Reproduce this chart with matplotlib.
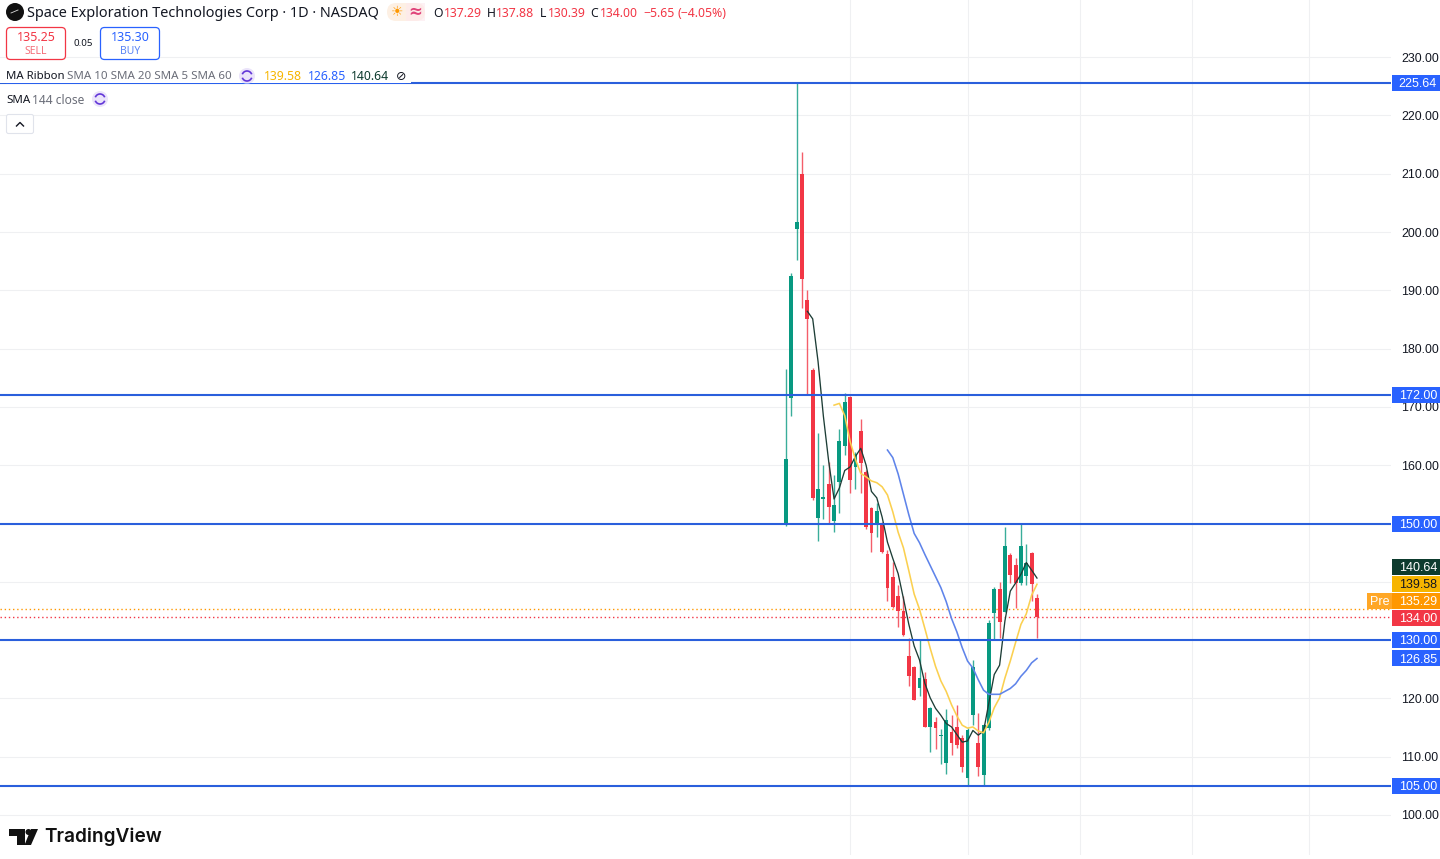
import matplotlib
matplotlib.use("Agg")
import matplotlib.pyplot as plt
from matplotlib.patches import Rectangle, FancyBboxPatch, Circle, Arc, Polygon
from matplotlib.transforms import blended_transform_factory

plt.rcParams['font.family'] = ['Noto Sans', 'DejaVu Sans']

opens = [150,171.5,200.5,210,188.3,176.3,151,154.2,156.8,150.4,157.1,163.3,171.7,159.7,165.9,158.8,
         152.7,150,150,144.8,140.8,137.6,135,127.3,125.4,121.8,123.3,115.1,116,113.5,109,114.2,
         115.1,113.2,106.3,117.2,112.3,106.9,114.9,134.6,138.8,134.8,144.6,142.9,139.8,141,144.9,137.29]
highs = [176.5,193,225.64,213.7,190,176.7,165.5,160,160.5,158.3,166.2,172.4,171.8,162.3,167.9,159.2,
         152.8,153.5,150.2,145.4,143.4,139.5,137.6,130.4,125.6,130,124.5,118.5,116.8,114.8,118.2,117.2,
         118.9,113.7,114.9,126.6,117.5,115.6,133.4,139.1,140,149.4,144.9,144.1,150,146.5,145.1,137.88]
lows = [149.5,168.5,195.2,187,172,154,147,150.8,150,148.5,151.8,161.7,155.2,156,155.2,149,
        145.1,147.7,145,136.7,135.5,132.2,130.7,122.1,119.7,120.4,115.1,110.8,111.3,108.7,107,110.3,
        111.5,107.4,105,115.4,106.7,105,114.6,130.2,130.4,134.8,139.8,135.5,139.5,139.5,136.7,130.39]
closes = [161,192.5,201.7,192,185,154.4,156,154.6,152.8,153.2,164.1,170.8,157.5,161.9,160.4,149.4,
          148.4,152.1,145.1,138.9,135.7,135,130.9,123.8,119.7,123.5,115.1,118.4,114.9,113.6,116.3,112.3,
          112,108.2,114.6,125.4,108.2,115.4,132.9,138.8,133.1,146.1,141.2,139.8,146.1,143.2,139.6,134]
sma5 = [186.4,185.1,177.8,168.4,160.6,154.2,156.1,159.1,159.7,161.5,162.9,160,155.5,154.4,151.1,146.8,
        144,141.4,137.1,132.7,129,126.6,122.6,120.1,118.3,117.1,115.7,115.1,113.8,112.5,112.7,114.5,
        113.7,114.4,119.3,124.1,125.7,133.3,138.4,139.8,141.3,143.3,142,140.64]
sma10 = [170.3,170.6,168.5,164.1,161,158.6,158,157.3,157,156.3,154.9,152,148.5,145.8,141.9,137.9,
         135.3,132,128.6,125.5,123,121.2,118.9,117,115.4,114.9,115.1,114.4,114.1,115.9,118.4,120.1,
         123.5,126.4,129.6,132.7,134.5,137.7,139.58]
sma20 = [162.6,161.3,158.5,155,151.5,148.3,146.7,144.7,142.8,140.9,139,136.6,133.7,131.4,128.7,126.4,
         125.2,123.2,121.4,120.7,120.7,120.7,121.2,121.7,122.5,123.8,124.8,126.1,126.85]
level_prices = [225.64,172,150,130,105]
price_ticks = list(range(100,240,10))
time_grid = [12,34,55,76,98]
last_price, pre_price = 134.00, 135.29
tags = [("225.64",225.64,"#2962ff","white"),("172.00",172,"#2962ff","white"),("150.00",150,"#2962ff","white"),
        ("130.00",130,"#2962ff","white"),("126.85",126.85,"#2962ff","white"),("105.00",105,"#2962ff","white"),
        ("140.64",142.5,"#0d3b2e","white"),("139.58",139.6,"#f7b500","#131722"),
        ("135.29",136.7,"#ff9800","white"),("134.00",133.85,"#f23645","white")]

UP, DOWN, BLUE, LINE = "#089981", "#f23645", "#2962ff", "#2a5fdc"
fig = plt.figure(figsize=(14.4,8.59), dpi=100, facecolor="white")
ax = fig.add_axes([0,0,1391/1440,1])
ax.set_facecolor("white")
ax.set_xlim(-147.2,113.3)
ax.set_ylim(92.45,239.8)
for s in ax.spines.values():
    s.set_visible(False)
ax.yaxis.tick_right()
ax.set_yticks(price_ticks)
ax.set_yticklabels([f"{p:.2f}" for p in price_ticks], fontsize=8.9, color="#131722", family="Liberation Sans")
ax.tick_params(axis="y", length=0, pad=7.5)
ax.set_xticks(time_grid)
ax.tick_params(axis="x", length=0, labelbottom=False)
ax.grid(True, color="#eff0f2", lw=0.75)
ax.set_axisbelow(True)

for i,(o,h,l,c) in enumerate(zip(opens,highs,lows,closes)):
    col = UP if c>=o else DOWN
    ax.vlines(i,l,h,color=col,lw=1.0,alpha=0.8,zorder=3)
    ax.bar(i,max(abs(c-o),0.25),bottom=min(o,c),width=0.72,color=col,lw=0,zorder=3)

ax.plot(range(4,48),sma5,color="#1d3d36",lw=0.95,zorder=4)
ax.plot(range(9,48),sma10,color="#fbd050",lw=1.15,zorder=4)
ax.plot(range(19,48),sma20,color="#5f84ea",lw=1.15,zorder=4)
for p in level_prices:
    ax.axhline(p,color=LINE,lw=1.5,zorder=5)
ax.axhline(pre_price,color="#ff9800",lw=1,ls=(0,(1,2)),zorder=2)
ax.axhline(last_price,color="#f23645",lw=1,ls=(0,(1,2)),zorder=2)

tr = blended_transform_factory(fig.transFigure, ax.transData)
h_units = 16/5.83
for txt,y,bg,fg in tags:
    ax.add_patch(Rectangle((1392/1440,y-h_units/2),48/1440,h_units,transform=tr,fc=bg,ec="none",zorder=10,clip_on=False))
    ax.text(1437/1440,y-0.2,txt,transform=tr,ha="right",va="center",color=fg,fontsize=9,family="Liberation Sans",zorder=11,clip_on=False)
ax.add_patch(Rectangle((1367/1440,136.7-h_units/2),25/1440,h_units,transform=tr,fc="#ffa726",ec="none",zorder=10,clip_on=False))
ax.text(1380/1440,136.5,"Pre",transform=tr,ha="center",va="center",color="white",fontsize=9,family="Liberation Sans",zorder=11,clip_on=False)

# page chrome in pixel coordinates
ui = fig.add_axes([0,0,1,1],zorder=20)
ui.set_xlim(0,1440); ui.set_ylim(859,0); ui.axis("off"); ui.patch.set_alpha(0)
def T(x,y,s,c="#131722",fs=9,ha="left",**k):
    ui.text(x,y+1.2,s,color=c,fontsize=fs,ha=ha,va="center",**k)
ui.add_patch(Rectangle((0,855),1391,4,fc="white",ec="none"))
ui.add_patch(Rectangle((0,67),411,16.2,fc="white",ec="none"))
ui.add_patch(Circle((15,12),9,fc="#111111",ec="none"))
ui.plot([11,18],[13,10],color="#dddddd",lw=0.6)
T(27,12,"Space Exploration Technologies Corp · 1D · NASDAQ",fs=10.4)
ui.add_patch(FancyBboxPatch((387,3),38,18,boxstyle="round,pad=0,rounding_size=9",fc="#fdf0e4",ec="none"))
ui.add_patch(Rectangle((406,3),19,18,fc="#fde9ee",ec="none",alpha=0.6))
T(397,10.5,"☀",c="#ff9800",fs=10,ha="center",family="DejaVu Sans")
T(415,10.5,"≈",c="#e0457b",fs=12,ha="center",family="DejaVu Sans",fontweight="bold")
RED="#f23645"
for x,s,c in [(433,"O","#131722"),(444,"137.29",RED),(487,"H","#131722"),(496,"137.88",RED),(540,"L","#131722"),
              (548,"130.39",RED),(590,"C","#131722"),(600,"134.00",RED),(643,"−5.65",RED),(678,"(−4.05%)",RED)]:
    T(x,12,s,c=c,fs=8.8)
ui.add_patch(FancyBboxPatch((6.5,27.5),59,32,boxstyle="round,pad=0,rounding_size=4",fc="white",ec=RED,lw=0.9))
T(36,36,"135.25",c=RED,fs=9,ha="center"); T(36,50,"SELL",c="#f4707b",fs=7.5,ha="center")
T(83,42.5,"0.05",fs=7,ha="center")
ui.add_patch(FancyBboxPatch((100.5,27.5),59,32,boxstyle="round,pad=0,rounding_size=4",fc="white",ec=BLUE,lw=0.9))
T(130,36,"135.30",c=BLUE,fs=9,ha="center"); T(130,50,"BUY",c="#5b85f5",fs=7.5,ha="center")
T(6,75.5,"MA Ribbon",fs=8.2)
T(67,75.5,"SMA 10 SMA 20 SMA 5 SMA 60",c="#6a6d78",fs=8.3)
T(264,75.5,"139.58",c="#f7b500",fs=8.8); T(308,75.5,"126.85",c=BLUE,fs=8.8); T(351,75.5,"140.64",c="#0d3b2e",fs=8.8)
T(401,75.5,"⊘",fs=9,ha="center",family="DejaVu Sans")
ui.plot([6,405],[82.6,82.6],color=BLUE,lw=0.5,alpha=0.7)
T(6,99,"SMA",fs=8.3); T(32,99,"144 close",c="#6a6d78",fs=8.6)
for cx,cy in [(247,76),(100,99)]:
    ui.add_patch(Circle((cx,cy),8,fc="#ebe4fa",ec="none"))
    ui.add_patch(Arc((cx,cy),10,10,theta1=20,theta2=160,color="#6236d8",lw=1.2))
    ui.add_patch(Arc((cx,cy),10,10,theta1=200,theta2=340,color="#6236d8",lw=1.2))
ui.add_patch(FancyBboxPatch((6.5,114.5),27,19,boxstyle="round,pad=0,rounding_size=2",fc="white",ec="#e0e3eb",lw=0.8))
ui.plot([16.5,20,23.5],[126,122.5,126],color="#131722",lw=1)
ui.add_patch(Polygon([(9,829),(25,829),(25,845),(17,845),(17,836),(9,836)],fc="#111111",ec="none"))
ui.add_patch(Circle((28.5,832),3,fc="#111111",ec="none"))
ui.add_patch(Polygon([(31,829),(38,829),(31,845),(24.5,845)],fc="#111111",ec="none"))
T(44,836,"TradingView",c="#111111",fs=13.7,family="Inter",fontweight="semibold")
fig.savefig("out.png",dpi=100)
